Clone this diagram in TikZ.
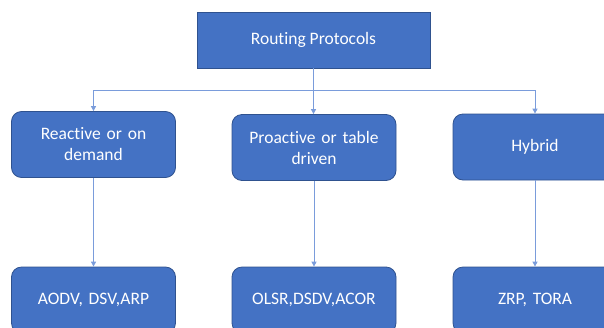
\documentclass[tikz,border=0pt]{standalone}
\usepackage{fontspec}
\setmainfont[Ligatures=NoCommon]{Carlito}
\usetikzlibrary{arrows.meta}
\definecolor{boxfill}{HTML}{4472C4}
\definecolor{boxline}{HTML}{2F528F}
\definecolor{connline}{HTML}{7A9CDB}
\begin{document}
\begin{tikzpicture}[x=1pt,y=1pt,
  box/.style={draw=boxline, line width=0.8pt, fill=boxfill, text=white,
    font=\fontsize{17.5}{21}\selectfont, align=center, inner sep=2pt},
  topbox/.style={box, minimum width=233pt, minimum height=56pt},
  catbox/.style={box, rounded corners=10pt, minimum width=164pt, minimum height=66pt, text width=150pt},
  leafbox/.style={box, rounded corners=10pt, minimum width=164pt, minimum height=66pt, text width=150pt},
  conn/.style={draw=connline, line width=1pt, -{Triangle[length=5pt,width=5pt]}}]
\useasboundingbox (0,0) rectangle (604,-327);
\clip (0,0) rectangle (604,-327);

% root
\node[topbox] (root) at (313.5,-40) {Routing Protocols};

% categories
\node[catbox] (reactive)  at (93.5,-144.5) {Reactive or on\\demand};
\node[catbox] (proactive) at (314,-147.5) {Proactive or table\\driven};
\node[catbox] (hybrid)    at (535,-147) {Hybrid};

% examples
\node[leafbox] (ex1) at (93.5,-300) {AODV, DSV,ARP};
\node[leafbox] (ex2) at (314,-300) {OLSR,DSDV,ACOR};
\node[leafbox] (ex3) at (535,-300) {ZRP, TORA};

% connectors
\coordinate (bus) at (313.5,-90);
\draw[conn] (root.south) -- (root.south |- proactive.north);
\draw[conn] (root.south) -- (bus) -| (reactive.north);
\draw[conn] (bus) -| (hybrid.north);
\draw[conn] (reactive.south) -- (ex1.north);
\draw[conn] (proactive.south) -- (ex2.north);
\draw[conn] (hybrid.south) -- (ex3.north);
\end{tikzpicture}
\end{document}
